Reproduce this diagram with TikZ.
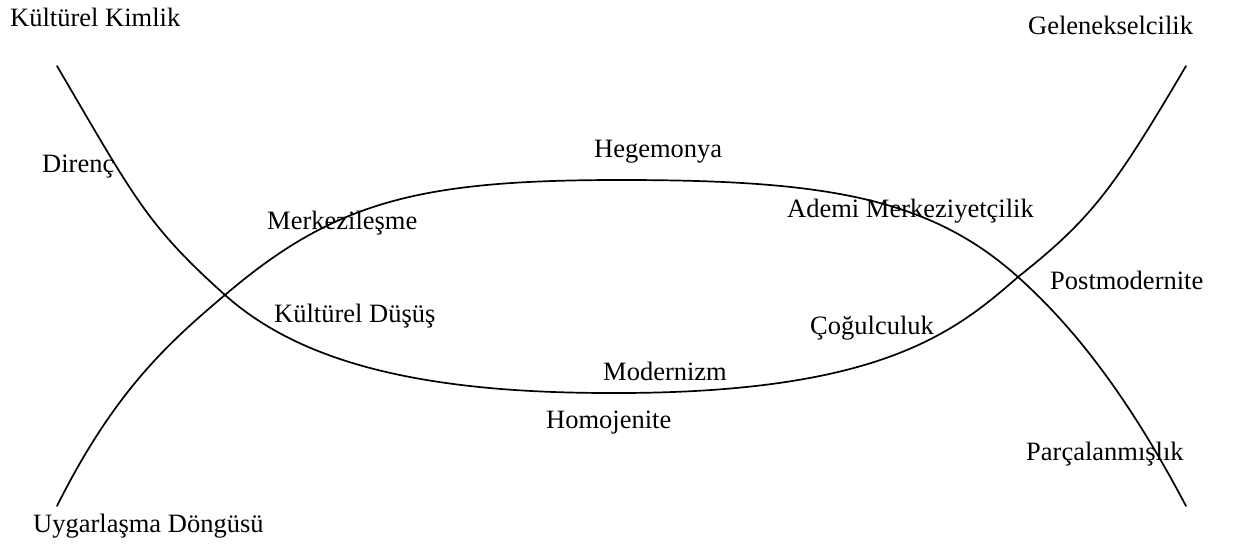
\documentclass[tikz,border=0pt]{standalone}
\usepackage{fontspec}
\setmainfont{Liberation Serif}
\begin{document}
\begin{tikzpicture}[x=1pt,y=-1pt,
  lbl/.style={anchor=base west,inner sep=0pt,font=\fontsize{26.5}{30}\selectfont},
  curve/.style={line width=1.7pt,line cap=round}]
\useasboundingbox[fill=white] (0,0) rectangle (1236,545);
\coordinate (tl) at (57,66);
\coordinate (tr) at (1186,66);
\coordinate (bl) at (57,506);
\coordinate (br) at (1186,506);
\coordinate (xl) at (225,295);
\coordinate (xr) at (1018,277);
\coordinate (bot) at (610,393);
\coordinate (top) at (620,180);
% bowl curve (top-left to top-right)
\draw[curve] (tl) .. controls (135,199) and (147,225) .. (xl)
  .. controls (300,362) and (420,393) .. (bot)
  .. controls (880,394) and (955,332) .. (xr)
  .. controls (1091,219) and (1113,190) .. (tr);
% arch curve (bottom-left to bottom-right)
\draw[curve] (bl) .. controls (114,392) and (168,343) .. (xl)
  .. controls (335,201) and (420,180) .. (top)
  .. controls (820,180) and (928,196) .. (xr)
  .. controls (1075,328) and (1129,398) .. (br);
\node[lbl] (kk) at (10,27) {Kültürel Kimlik};
\node[lbl] (gel) at (1028,35) {Gelenekselcilik};
\node[lbl] (dir) at (42,173) {Direnç};
\node[lbl] (heg) at (594,158) {Hegemonya};
\node[lbl] (mer) at (267,230) {Merkezileşme};
\node[lbl] (adm) at (787,218) {Ademi Merkeziyetçilik};
\node[lbl] (pm) at (1050,290) {Postmodernite};
\node[lbl] (kd) at (274,322) {Kültürel Düşüş};
\node[lbl] (cog) at (810,334) {Çoğulculuk};
\node[lbl] (mod) at (603,380) {Modernizm};
\node[lbl] (hom) at (546,428) {Homojenite};
\node[lbl] (par) at (1026,460) {Parçalanmışlık};
\node[lbl] (uyg) at (33,532) {Uygarlaşma Döngüsü};
\end{tikzpicture}
\end{document}
